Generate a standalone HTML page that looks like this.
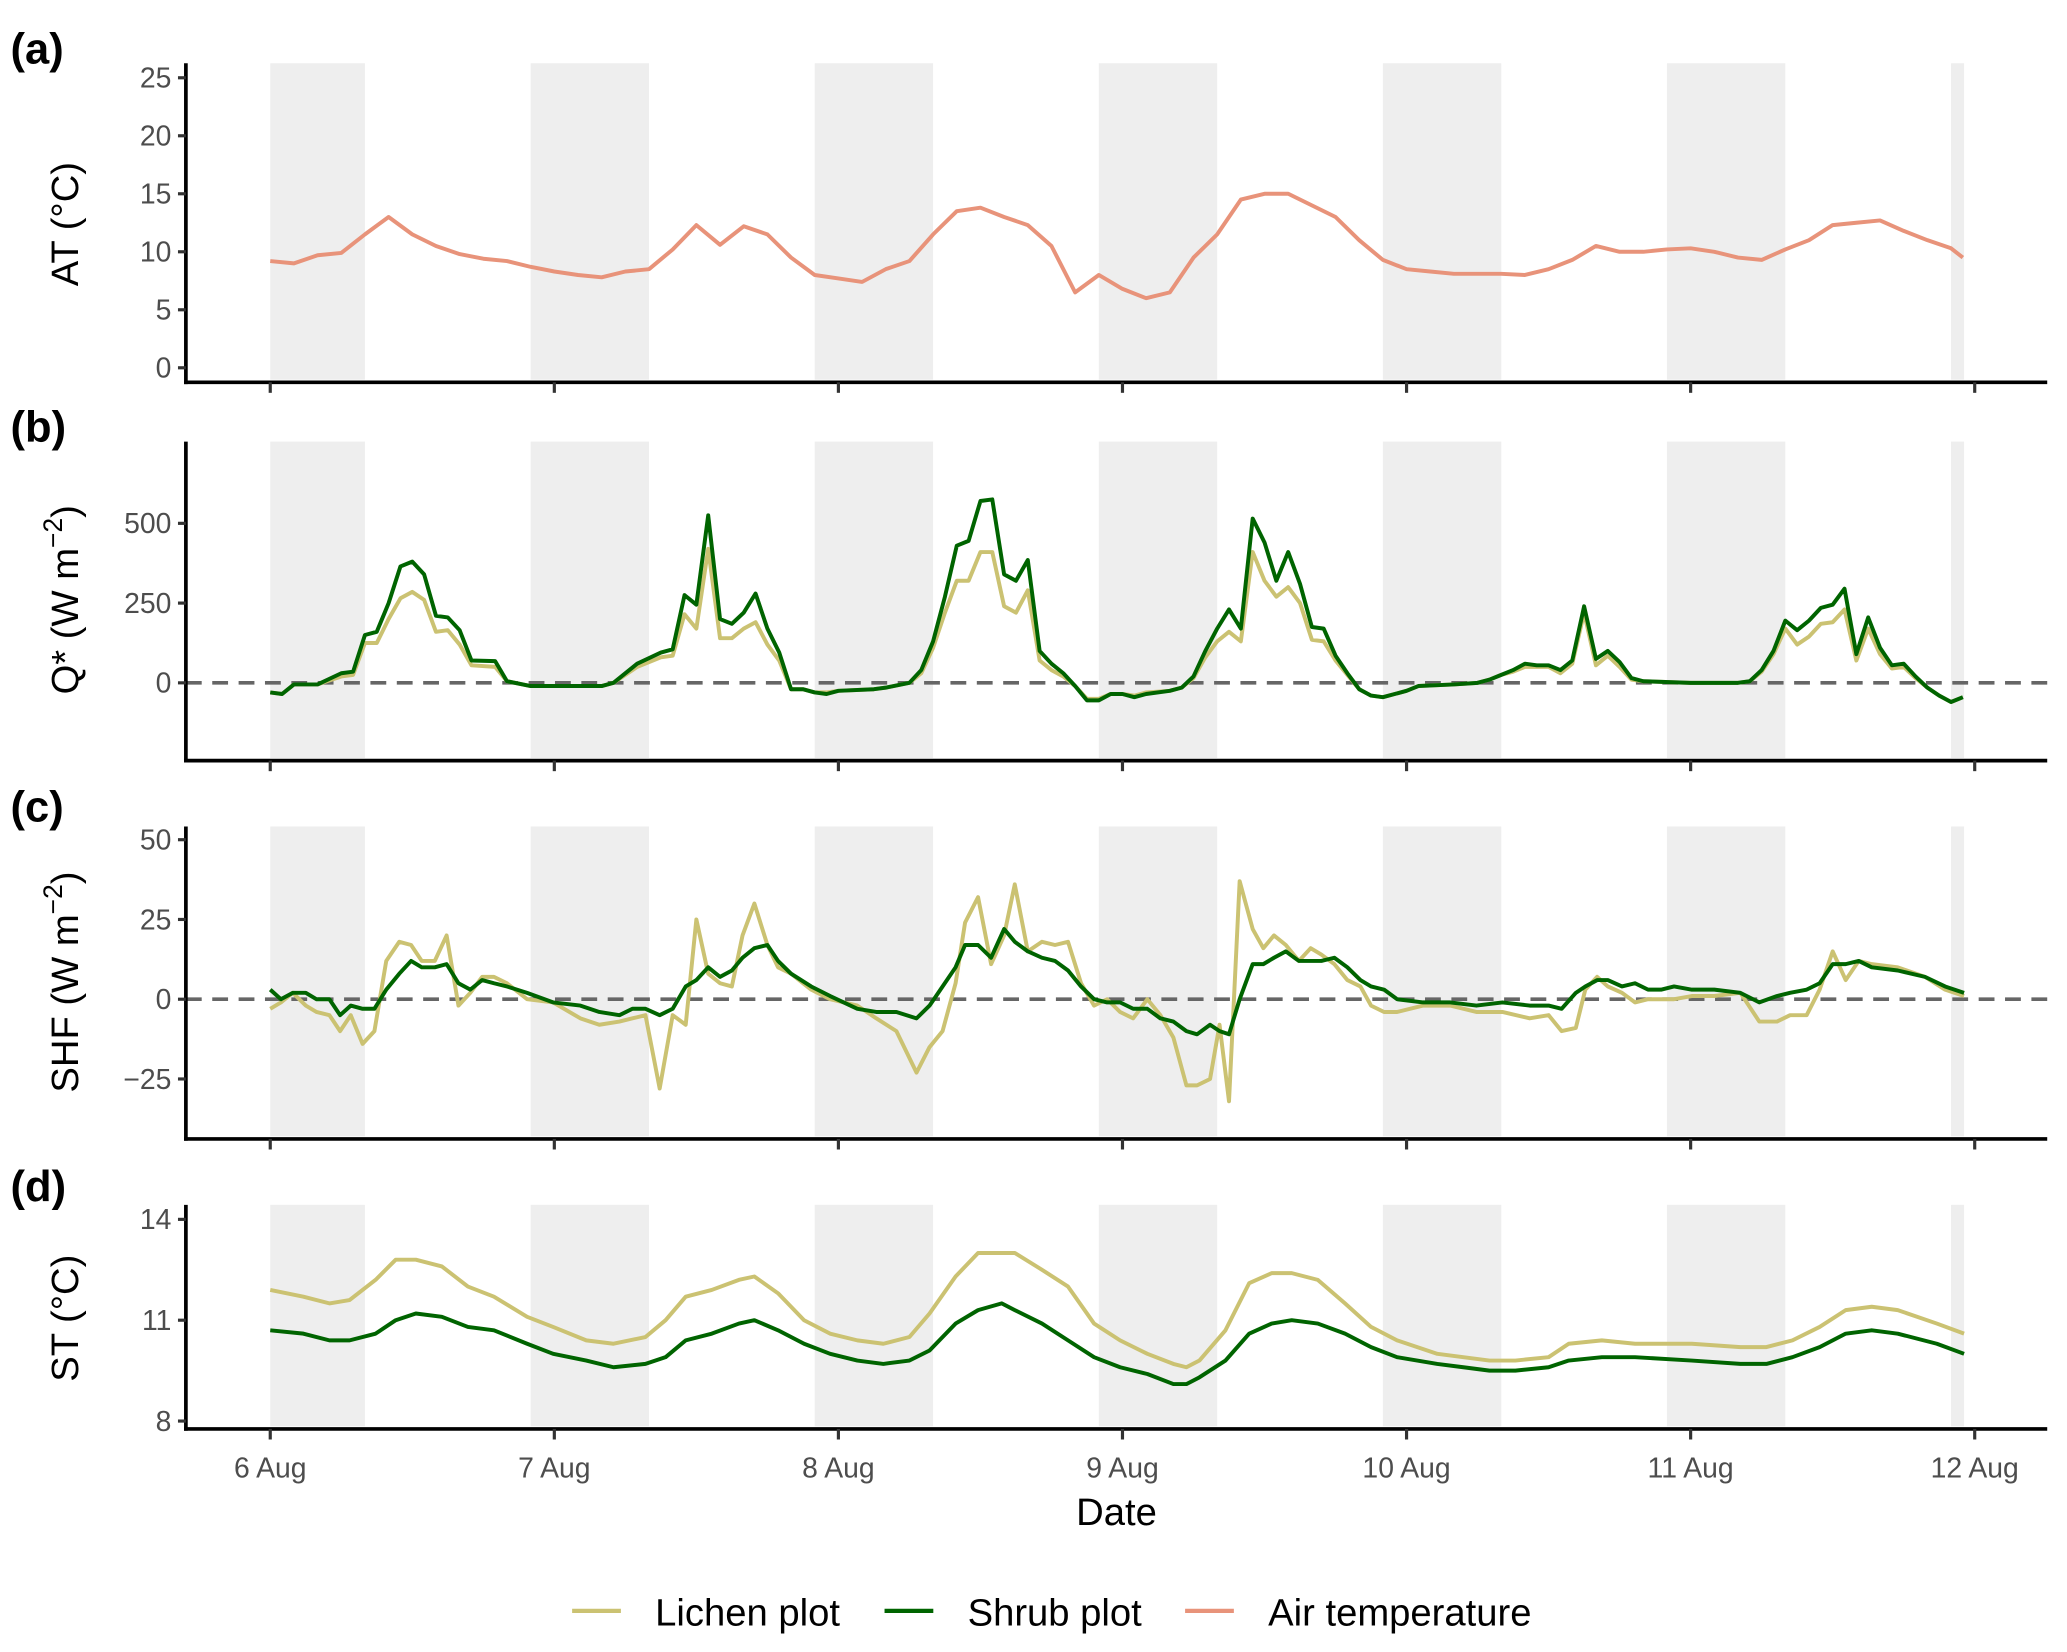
<!DOCTYPE html>
<html><head><meta charset="utf-8">
<style>
html,body{margin:0;padding:0;background:#fff;}
svg{display:block;font-family:"Liberation Sans",Arial,sans-serif;}
</style></head>
<body>
<svg id="chart" width="2067" height="1652" viewBox="0 0 1568 1253.2" xmlns="http://www.w3.org/2000/svg">
</svg>
<script>
// ---------- DATA ----------
const dayLabels = ["6 Aug","7 Aug","8 Aug","9 Aug","10 Aug","11 Aug","12 Aug"];
const nightStarts = [0,22,46,70,94,118,142];
const nightEnds = [8,32,56,80,104,128,143.1];

const atHours = [0,2,4,6,8,10,12,14,16,18,20,22,24,26,28,30,32,34,36,38,40,42,44,46,48,50,52,54,56,58,60,62,64,66,68,70,72,74,76,78,80,82,84,86,88,90,92,94,96,98,100,102,104,106,108,110,112,114,116,118,120,122,124,126,128,130,132,134,136,138,140,142,143];
const atValues = [9.2,9.0,9.7,9.9,11.5,13.0,11.5,10.5,9.8,9.4,9.2,8.7,8.3,8.0,7.8,8.3,8.5,10.2,12.3,10.6,12.2,11.5,9.5,8.0,7.7,7.4,8.5,9.2,11.5,13.5,13.8,13.0,12.3,10.5,6.5,8.0,6.8,6.0,6.5,9.5,11.5,14.5,15.0,15.0,14.0,13.0,11.0,9.3,8.5,8.3,8.1,8.1,8.1,8.0,8.5,9.3,10.5,10.0,10.0,10.2,10.3,10.0,9.5,9.3,10.2,11.0,12.3,12.5,12.7,11.8,11.0,10.3,9.5];

const qHours = [0,1,2,4,6,7,8,9,10,11,12,13,14,15,16,17,19,20,22,28,29,31,33,34,35,36,37,38,39,40,41,42,43,44,45,46,47,48,51,52,54,55,56,57,58,59,60,61,62,63,64,65,66,67,68,69,70,71,72,73,74,76,77,78,79,80,81,82,83,84,85,86,87,88,89,90,91,92,93,94,95,96,97,100,102,103,104,105,106,107,108,109,110,111,112,113,114,115,116,120,124,125,126,127,128,129,130,131,132,133,134,135,136,137,138,139,140,141,142,143];
const qShrub = [-30,-35,-5,-5,30,35,150,160,250,365,380,340,210,205,165,70,68,5,-10,-10,0,60,95,105,275,245,525,200,185,220,280,170,95,-20,-20,-30,-35,-25,-20,-15,0,40,130,270,430,445,570,575,340,320,385,100,60,30,-10,-55,-55,-35,-35,-45,-35,-25,-15,20,100,170,230,170,515,440,320,410,310,175,170,85,30,-20,-40,-45,-35,-25,-10,-5,0,10,25,40,60,55,55,40,70,240,75,100,65,15,5,0,0,5,40,100,195,165,195,235,245,295,90,205,110,55,60,20,-15,-40,-60,-45];
const qLichen = [-30,-35,-5,-5,20,25,125,125,200,265,285,260,160,165,120,55,50,5,-10,-10,0,50,80,85,215,170,420,140,140,170,190,120,70,-20,-20,-30,-30,-25,-20,-15,0,30,110,220,320,320,410,410,240,220,290,70,40,20,-10,-50,-50,-35,-35,-40,-30,-25,-15,15,80,130,160,130,410,320,270,300,250,135,130,70,25,-20,-40,-45,-35,-25,-10,-5,0,10,25,35,50,50,50,30,60,220,55,85,50,10,5,0,0,5,35,90,170,120,145,185,190,230,70,170,90,45,50,15,-15,-40,-60,-45];

const sHours = [0,0.9,1.9,3.0,3.9,5.0,5.9,6.8,7.8,8.8,9.8,10.9,11.9,12.8,13.9,14.9,15.9,16.9,17.9,18.9,20.0,21.7,23.9,26.2,27.8,29.5,30.6,31.7,32.9,34.0,35.1,36.0,37.0,38.0,39.0,39.9,40.9,42.0,42.9,44.0,45.7,47.3,49.6,51.2,52.9,54.6,55.7,56.8,57.9,58.7,59.8,60.9,62.0,62.9,64.0,65.2,66.3,67.4,68.5,69.6,70.7,71.8,72.9,74.1,75.2,76.3,77.4,78.3,79.4,80.2,81.0,81.9,83.0,83.9,84.8,85.8,86.9,87.9,88.8,89.9,91.0,92.1,93.0,94.1,95.2,97.4,99.7,101.9,104.1,106.4,108.0,109.1,110.3,111.1,112.1,113.0,114.2,115.3,116.4,117.5,118.6,120.1,122.0,124.2,125.8,127.3,128.4,129.8,130.9,132.0,133.1,134.2,135.3,137.5,139.8,141.5,143.1];
const sShrub = [3,0,2,2,0,0,-5,-2,-3,-3,3,8,12,10,10,11,5,3,6,5,4,2,-1,-2,-4,-5,-3,-3,-5,-3,4,6,10,7,9,13,16,17,12,8,4,1,-3,-4,-4,-6,-2,4,10,17,17,13,22,18,15,13,12,9,4,0,-1,-1,-3,-3,-6,-7,-10,-11,-8,-10,-11,0,11,11,13,15,12,12,12,13,10,6,4,3,0,-1,-1,-2,-1,-2,-2,-3,2,4,6,6,4,5,3,3,4,3,3,2,-1,1,2,3,5,11,11,12,10,9,7,4,2];
const sLichen = [-3,-1,2,-2,-4,-5,-10,-5,-14,-10,12,18,17,12,12,20,-2,2,7,7,5,0,-1,-6,-8,-7,-6,-5,-28,-5,-8,25,8,5,4,20,30,17,10,8,3,0,-2,-6,-10,-23,-15,-10,5,24,32,11,20,36,15,18,17,18,5,-2,0,-4,-6,0,-5,-12,-27,-27,-25,-8,-32,37,22,16,20,17,12,16,14,11,6,4,-2,-4,-4,-2,-2,-4,-4,-6,-5,-10,-9,3,7,4,2,-1,0,0,0,1,1,2,-7,-7,-5,-5,3,15,6,12,11,10,7,3,1];

const stHours = [0,2.8,5.0,6.7,8.9,10.6,12.3,14.5,16.7,18.9,21.7,23.9,26.7,29.0,31.7,33.4,35.1,37.3,39.6,40.9,42.9,45.1,47.3,49.6,51.8,54.0,55.7,57.9,59.8,61.8,62.9,65.2,67.4,69.6,71.8,74.1,76.3,77.4,78.5,80.7,82.7,84.6,86.3,88.5,90.8,93.0,95.2,98.6,100.8,103.0,105.2,108.0,109.7,112.5,115.3,120.1,124.2,126.4,128.6,130.9,133.1,135.3,137.5,140.8,143.1];
const stLichen = [11.9,11.7,11.5,11.6,12.2,12.8,12.8,12.6,12.0,11.7,11.1,10.8,10.4,10.3,10.5,11.0,11.7,11.9,12.2,12.3,11.8,11.0,10.6,10.4,10.3,10.5,11.2,12.3,13.0,13.0,13.0,12.5,12.0,10.9,10.4,10.0,9.7,9.6,9.8,10.7,12.1,12.4,12.4,12.2,11.5,10.8,10.4,10.0,9.9,9.8,9.8,9.9,10.3,10.4,10.3,10.3,10.2,10.2,10.4,10.8,11.3,11.4,11.3,10.9,10.6];
const stShrub = [10.7,10.6,10.4,10.4,10.6,11.0,11.2,11.1,10.8,10.7,10.3,10.0,9.8,9.6,9.7,9.9,10.4,10.6,10.9,11.0,10.7,10.3,10.0,9.8,9.7,9.8,10.1,10.9,11.3,11.5,11.3,10.9,10.4,9.9,9.6,9.4,9.1,9.1,9.3,9.8,10.6,10.9,11.0,10.9,10.6,10.2,9.9,9.7,9.6,9.5,9.5,9.6,9.8,9.9,9.9,9.8,9.7,9.7,9.9,10.2,10.6,10.7,10.6,10.3,10.0];

const atTicks = [0,5,10,15,20,25];
const qTicks = [0,250,500];
const sTicks = [-25,0,25,50];
const stTicks = [8,11,14];

// ---------- DRAW ----------
const NS = "http://www.w3.org/2000/svg";
const svg = document.getElementById("chart");
const LICHEN = "#cbc272", SHRUB = "#006400", AIR = "#e8937a";
const X0 = 141, X1 = 1553;
function xh(h){ return 205 + h * (1293 / 144); }
function mk(tag, attrs, parent){
  const e = document.createElementNS(NS, tag);
  for (const k in attrs) e.setAttribute(k, attrs[k]);
  (parent || svg).appendChild(e);
  return e;
}
function linScale(v0, y0, v1, y1){ return v => y0 + (v - v0) * (y1 - y0) / (v1 - v0); }

const panels = [
  {id:"a", top:48, bottom:290, shadeBot:288, y:linScale(0,279,25,59), ticks:atTicks, label:"(a)", labelY:48, title:"AT (°C)", titleY:170, zero:false,
   series:[{name:"air-temperature-line", h:atHours, v:atValues, c:AIR}]},
  {id:"b", top:335, bottom:577, shadeBot:575, y:linScale(0,518,500,397), ticks:qTicks, label:"(b)", labelY:335, title:"Q* (W m", titleY:455, zero:true, sup:true,
   series:[{name:"lichen-q-line", h:qHours, v:qLichen, c:LICHEN},{name:"shrub-q-line", h:qHours, v:qShrub, c:SHRUB}]},
  {id:"c", top:627, bottom:864, shadeBot:862, y:linScale(0,758,50,637), ticks:sTicks, label:"(c)", labelY:623, title:"SHF (W m", titleY:745, zero:true, sup:true,
   series:[{name:"lichen-shf-line", h:sHours, v:sLichen, c:LICHEN},{name:"shrub-shf-line", h:sHours, v:sShrub, c:SHRUB}]},
  {id:"d", top:914, bottom:1084, shadeBot:1082, y:linScale(8,1078,14,925), ticks:stTicks, label:"(d)", labelY:911, title:"ST (°C)", titleY:1000, zero:false,
   series:[{name:"lichen-st-line", h:stHours, v:stLichen, c:LICHEN},{name:"shrub-st-line", h:stHours, v:stShrub, c:SHRUB}]}
];

panels.forEach(p => {
  const g = mk("g", {});
  
  
  nightStarts.forEach((s, i) => {
    const r = mk("rect", {x:xh(s), y:p.top, width:xh(nightEnds[i]) - xh(s), height:p.shadeBot - p.top, fill:"#eeeeee"}, g);
    
    
  });
  if (p.zero) {
    const z = mk("line", {x1:X0, x2:X1, y1:p.y(0), y2:p.y(0), stroke:"#666", "stroke-width":2.8, "stroke-dasharray":"12,8"}, g);
    
    
  }
  p.series.forEach(s => {
    const d = s.h.map((h, i) => (i ? "L" : "M") + xh(h).toFixed(2) + "," + p.y(s.v[i]).toFixed(2)).join("");
    const pl = mk("path", {d:d, fill:"none", stroke:s.c, "stroke-width":3, "stroke-linejoin":"round"}, g);
    
    
  });
  const ya = mk("line", {x1:X0, x2:X0, y1:p.top, y2:p.bottom + 1.4, stroke:"#000", "stroke-width":2.8}, g);
  
  
  const xa = mk("line", {x1:X0 - 1.4, x2:X1, y1:p.bottom, y2:p.bottom, stroke:"#000", "stroke-width":2.8}, g);
  
  
  p.ticks.forEach(t => {
    const yy = p.y(t);
    const tk = mk("line", {x1:X0 - 6, x2:X0, y1:yy, y2:yy, stroke:"#333", "stroke-width":2.4}, g);
    
    
    const tl = mk("text", {x:X0 - 11, y:yy + 7.5, "text-anchor":"end", "font-size":21.5, fill:"#4d4d4d"}, g);
    tl.textContent = t < 0 ? "\u2212" + Math.abs(t) : String(t);
    
    
  });
  dayLabels.forEach((lab, i) => {
    const xx = xh(i * 24);
    const tk = mk("line", {x1:xx, x2:xx, y1:p.bottom, y2:p.bottom + 8, stroke:"#333", "stroke-width":2.4}, g);
    
    
  });
  const lb = mk("text", {x:8, y:p.labelY, "font-size":33, "font-weight":"bold", fill:"#000"}, g);
  lb.textContent = p.label;
  
  
  const tt = mk("text", {x:0, y:0, "text-anchor":"middle", "font-size":29, fill:"#000", transform:"translate(59," + p.titleY + ") rotate(-90)"}, g);
  
  
  if (p.sup) {
    tt.appendChild(document.createTextNode(p.title));
    const sp = mk("tspan", {"font-size":20, dy:-12}, tt);
    sp.textContent = "\u22122";
    const sp2 = mk("tspan", {dy:12}, tt);
    sp2.textContent = ")";
  } else {
    tt.textContent = p.title;
  }
});

// x tick labels on bottom panel
dayLabels.forEach((lab, i) => {
  const t = mk("text", {x:xh(i * 24), y:1121, "text-anchor":"middle", "font-size":21.5, fill:"#4d4d4d"});
  t.textContent = lab;
  
  
});
const xt = mk("text", {x:847, y:1157, "text-anchor":"middle", "font-size":29, fill:"#000"});
xt.textContent = "Date";



// legend
const legendNames = ["Lichen plot","Shrub plot","Air temperature"];
const legendColors = [LICHEN, SHRUB, AIR];
const legendX = [434, 671, 899];
const lg = mk("g", {});


legendNames.forEach((n, i) => {
  const ln = mk("line", {x1:legendX[i], x2:legendX[i] + 37, y1:1222, y2:1222, stroke:legendColors[i], "stroke-width":3.2}, lg);
  
  
  const tx = mk("text", {x:legendX[i] + 63, y:1233, "font-size":29, fill:"#000"}, lg);
  tx.textContent = n;
  
  
});
</script>
</body></html>
